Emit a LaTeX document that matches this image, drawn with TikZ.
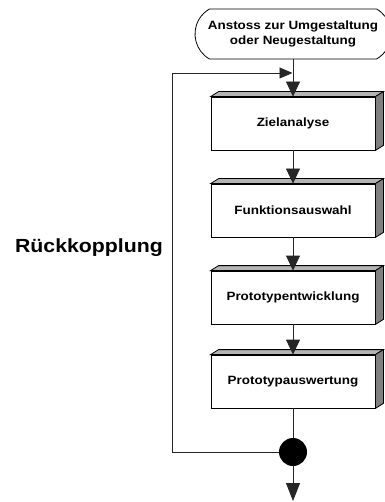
\documentclass[tikz,border=0pt]{standalone}
\usepackage{fontspec}
\newfontfamily\labfont{Liberation Sans}[FakeStretch=1.12]
\usetikzlibrary{arrows.meta,shapes.misc}
\definecolor{topface}{HTML}{B4B4B4}
\definecolor{sideface}{HTML}{808080}
\tikzset{
  stepbox/.style={draw=black, fill=white, line width=0.8pt, minimum width=164pt, minimum height=53pt, inner sep=0pt,
    font=\labfont\bfseries\fontsize{12}{15}\selectfont},
  termbox/.style={draw=black, fill=white, line width=0.8pt, rounded rectangle, rounded rectangle arc length=120,
    minimum width=196pt, minimum height=50pt, inner sep=0pt, align=center,
    font=\labfont\bfseries\fontsize{12}{15.5}\selectfont},
  conn/.style={line width=0.8pt, draw=black!85},
  arr/.style={conn, -{Triangle[length=15pt,width=14pt]}},
  arrsmall/.style={conn, -{Triangle[length=13pt,width=11pt]}},
  arrbig/.style={conn, -{Triangle[length=18pt,width=14pt]}},
}
\begin{document}
\begin{tikzpicture}[x=1pt,y=-1pt]
\useasboundingbox (0,0) rectangle (384,502);
\node[termbox] (term) at (293,34) {Anstoss zur Umgestaltung\\oder Neugestaltung};
\node[stepbox] (b1) at (293,123.5) {Zielanalyse};
\node[stepbox] (b2) at (293,210.5) {Funktionsauswahl};
\node[stepbox] (b3) at (293,297.5) {Prototypentwicklung};
\node[stepbox] (b4) at (293,381.5) {Prototypauswertung};
\foreach \b in {b1,b2,b3,b4}{
  \filldraw[fill=topface, draw=black, line width=0.8pt] (\b.north west) -- ++(8,-5) -- ([shift={(8,-5)}]\b.north east) -- (\b.north east) -- cycle;
  \filldraw[fill=sideface, draw=black, line width=0.8pt] (\b.north east) -- ++(8,-5) -- ([shift={(8,-5)}]\b.south east) -- (\b.south east) -- cycle;
}
\node[circle, fill=black, minimum size=28pt, inner sep=0pt] (j) at (293,452) {};
\node[font=\labfont\bfseries\fontsize{19}{22}\selectfont] (rk) at (89,248) {Rückkopplung};
\coordinate (c2) at (172,73);
\coordinate (fbin) at (292.5,73);
\coordinate (out) at (293,501);
\draw[arr] (term.south) -- (b1.north);
\draw[arr] (b1.south) -- (b2.north);
\draw[arr] (b2.south) -- (b3.north);
\draw[arr] (b3.south) -- (b4.north);
\draw[conn] (b4.south) -- (j.north);
\draw[arrsmall] (j.west) -| (c2) -- (fbin);
\draw[arrbig] (j.south) -- (out);
\end{tikzpicture}
\end{document}
